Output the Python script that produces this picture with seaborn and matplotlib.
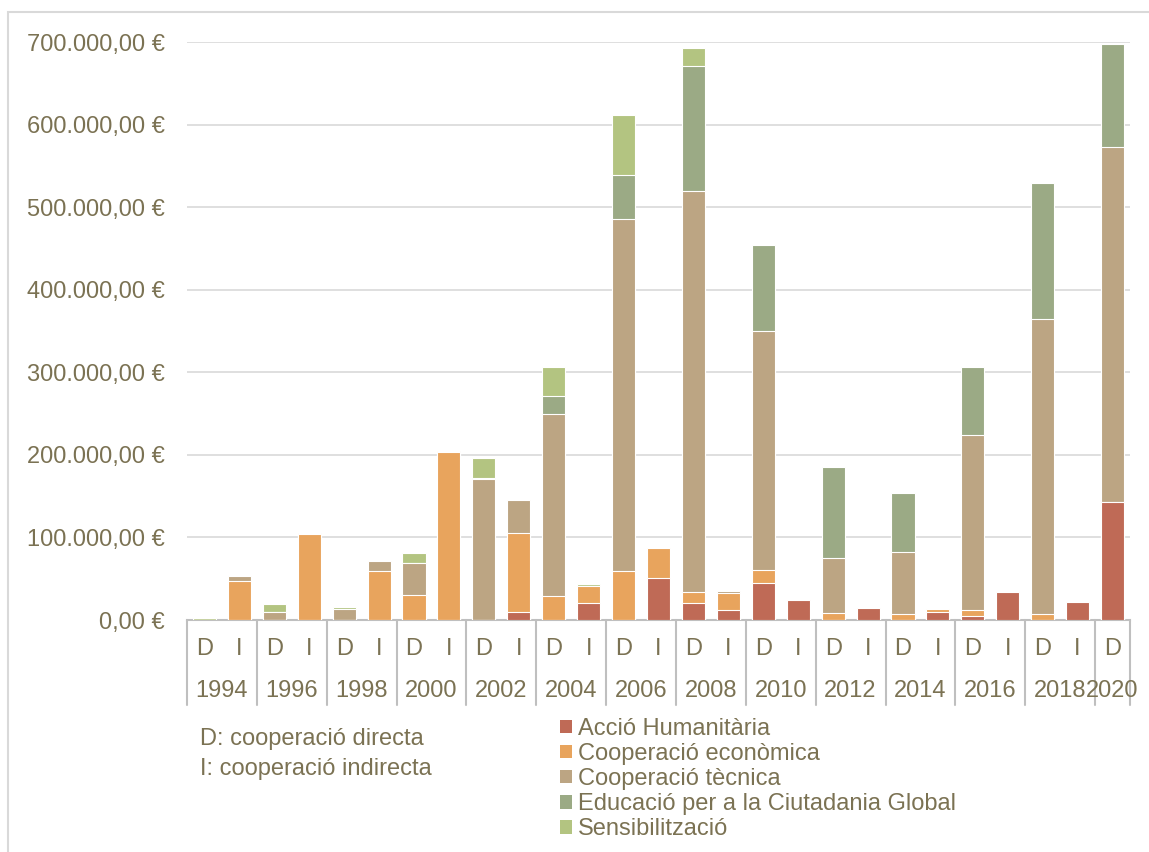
import matplotlib
matplotlib.use('Agg')
import matplotlib.pyplot as plt
import matplotlib.transforms as mtransforms
from matplotlib.patches import Patch, Rectangle
from matplotlib.ticker import FuncFormatter
import pandas as pd
import seaborn as sns

# DATA
# one slot per year and type of cooperation (D: directa, I: indirecta)
years = ['1994', '1996', '1998', '2000', '2002', '2004', '2006',
         '2008', '2010', '2012', '2014', '2016', '2018', '2020']
slots = []
for y in years:
    slots.append(y + ' D')
    if y != '2020':
        slots.append(y + ' I')

categories = ['Acció Humanitària', 'Cooperació econòmica', 'Cooperació tècnica',
              'Educació per a la Ciutadania Global', 'Sensibilització']

# values in €, order follows slots
accio_humanitaria = [0, 0, 0, 0, 0, 0, 0, 0, 0, 10000, 0, 21000, 0, 51000,
                     21000, 12500, 45000, 24000, 0, 14000, 0, 10000, 5000, 33500,
                     0, 22000, 143000]
coop_economica = [0, 47500, 0, 104000, 0, 59000, 30000, 203000, 0, 95000,
                  29500, 20000, 59000, 36500, 12500, 20000, 16000, 0, 8000, 0,
                  7000, 3300, 7000, 0, 7000, 0, 0]
coop_tecnica = [0, 5500, 10000, 1000, 13500, 12000, 39500, 2000, 171000, 40000,
                219500, 0, 427000, 0, 486500, 2500, 289000, 0, 66500, 0,
                75000, 0, 212000, 0, 358000, 0, 430000]
educacio = [0, 0, 0, 0, 0, 0, 0, 0, 1500, 0, 22000, 0, 53500, 0, 151000, 0,
            104000, 0, 110500, 0, 72000, 0, 82000, 0, 164000, 0, 125000]
sensibilitzacio = [2000, 0, 9000, 0, 2000, 0, 12000, 0, 24000, 0, 35000, 2500,
                   71500, 0, 22000, 0, 0, 0, 0, 0, 0, 0, 0, 0, 0, 0, 0]

colors = ['#BF6A56', '#E8A45D', '#BCA583', '#9BAA85', '#B3C481']
text_color = '#7B7253'
fs = 17

# seaborn barplot has no stacking -> draw cumulative sums, tallest first
df = pd.DataFrame({'slot': slots,
                   categories[0]: accio_humanitaria,
                   categories[1]: coop_economica,
                   categories[2]: coop_tecnica,
                   categories[3]: educacio,
                   categories[4]: sensibilitzacio})
cum = df[categories].cumsum(axis=1)
cum['slot'] = df['slot']

# PLOTTING
sns.set(style='white', rc={'axes.grid': False})
plt.rcParams['font.family'] = ['Liberation Sans', 'DejaVu Sans']

fig = plt.figure(figsize=(11.49, 8.52), dpi=100)
ax = fig.add_axes([187 / 1149, 1 - 620 / 852, (1130 - 187) / 1149, (620 - 42) / 852])

for cat, col in reversed(list(zip(categories, colors))):
    sns.barplot(x='slot', y=cat, data=cum, order=slots, ax=ax, color=col,
                saturation=1, width=0.66, edgecolor='white', linewidth=0.8,
                zorder=3)

ax.set_ylim(0, 700000)
ax.set_xlim(-0.5, len(slots) - 0.5)
ax.set_yticks(range(0, 700001, 100000))
ax.yaxis.set_major_formatter(FuncFormatter(
    lambda v, p: f'{v:,.2f} €'.replace(',', 'X').replace('.', ',').replace('X', '.')))
ax.tick_params(axis='y', length=0, pad=16, labelsize=fs, labelcolor=text_color)
ax.tick_params(axis='x', length=0, labelbottom=False)
ax.set(xlabel='', ylabel='')
ax.grid(axis='y', color='#D9D9D9', linewidth=1.2, zorder=0)
for s in ['top', 'right', 'left']:
    ax.spines[s].set_visible(False)
ax.spines['bottom'].set_color('#BFBFBF')
ax.spines['bottom'].set_linewidth(1.5)

# two-level category axis: D/I row, year row and separators
trans = mtransforms.blended_transform_factory(ax.transData, ax.transAxes)
h = 620 - 42
for i, s in enumerate(slots):
    ax.text(i, -29 / h, s.split()[1], transform=trans, ha='center', va='center',
            fontsize=fs, color=text_color)
pos = 0
bounds = [-0.5]
for y in years:
    n = 1 if y == '2020' else 2
    ax.text(pos + (n - 1) / 2, -71 / h, y, transform=trans, ha='center',
            va='center', fontsize=fs, color=text_color)
    pos += n
    bounds.append(pos - 0.5)
for b in bounds:
    ax.plot([b, b], [0, -85 / h], transform=trans, color='#BFBFBF',
            linewidth=1.5, clip_on=False)

# notes and legend
fig.text(200 / 1149, 1 - 739 / 852, 'D: cooperació directa', fontsize=fs,
         color=text_color, va='center')
fig.text(200 / 1149, 1 - 769 / 852, 'I: cooperació indirecta', fontsize=fs,
         color=text_color, va='center')
handles = [Patch(facecolor=c, edgecolor='none') for c in colors]
fig.legend(handles, categories, loc='upper left',
           bbox_to_anchor=(560 / 1149, 1 - 718 / 852), frameon=False,
           fontsize=fs, labelcolor=text_color, handlelength=0.5,
           handleheight=0.5, handletextpad=0.25, labelspacing=0.13,
           borderaxespad=0, borderpad=0)

# chart frame
fig.patches.append(Rectangle((8 / 1149, -0.1), 1.2, 1.1 - 12 / 852,
                             transform=fig.transFigure, fill=False,
                             edgecolor='#D9D9D9', linewidth=1.5))

# OUTPUT
plt.savefig('out.png', dpi=100)
